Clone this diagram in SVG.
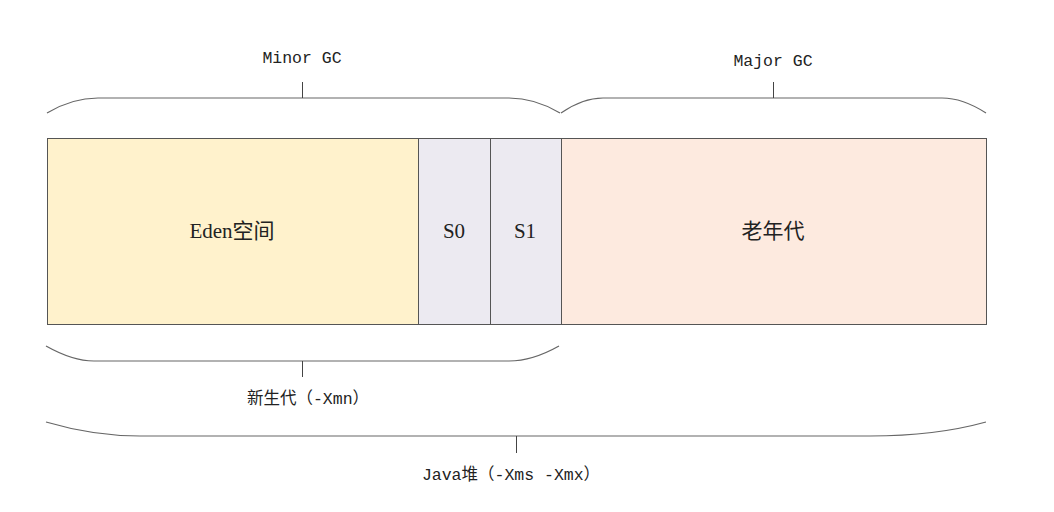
<svg xmlns="http://www.w3.org/2000/svg" width="1054" height="512" viewBox="0 0 1054 512">
<style>
.box{stroke:#555;stroke-width:1}
.brace{fill:none;stroke:#666;stroke-width:1.2}
.tick{stroke:#444;stroke-width:1}
.lbl{font-family:"Liberation Serif","Noto Sans CJK SC",serif;font-size:21px;fill:#222;text-anchor:middle}
.mono{font-family:"Liberation Mono","Noto Sans CJK SC",monospace;font-size:16.5px;fill:#222;text-anchor:middle}
</style>
<rect width="1054" height="512" fill="#fff"/>
<g id="eden"><rect class="box" x="47.5" y="138.5" width="371" height="186" fill="#FFF2CC"/><text class="lbl" x="232" y="238">Eden空间</text></g>
<g id="s0"><rect class="box" x="418.5" y="138.5" width="72" height="186" fill="#ECEAF1"/><text class="lbl" x="454" y="238">S0</text></g>
<g id="s1"><rect class="box" x="490.5" y="138.5" width="71" height="186" fill="#ECEAF1"/><text class="lbl" x="525" y="238">S1</text></g>
<g id="old"><rect class="box" x="561.5" y="138.5" width="425" height="186" fill="#FDEADF"/><text class="lbl" x="773" y="238">老年代</text></g>
<g id="connectors">
<path class="brace" d="M47,113 C62,104 80,98 98,98 L509,98 C527,98 545,104 560,113"/>
<line class="tick" x1="302.5" y1="82" x2="302.5" y2="98"/>
<path class="brace" d="M561,113 C574,104 588,98 603,98 L942,98 C957,98 972,104 986,113"/>
<line class="tick" x1="773.5" y1="82" x2="773.5" y2="98"/>
<path class="brace" d="M46,346 C62,355 78,361 94,361 L509,361 C526,361 543,355 559,346"/>
<line class="tick" x1="302.5" y1="361" x2="302.5" y2="377"/>
<path class="brace" d="M46,422 C80,432 110,436 140,436 L870,436 C905,436 950,432 986,422"/>
<line class="tick" x1="516.5" y1="436" x2="516.5" y2="453"/>
</g>
<g id="minor"><text class="mono" x="302" y="63">Minor GC</text></g>
<g id="major"><text class="mono" x="773" y="66">Major GC</text></g>
<g id="young"><text class="mono" x="308" y="404">新生代（-Xmn）</text></g>
<g id="heap"><text class="mono" x="511" y="480">Java堆（-Xms -Xmx）</text></g>
</svg>
